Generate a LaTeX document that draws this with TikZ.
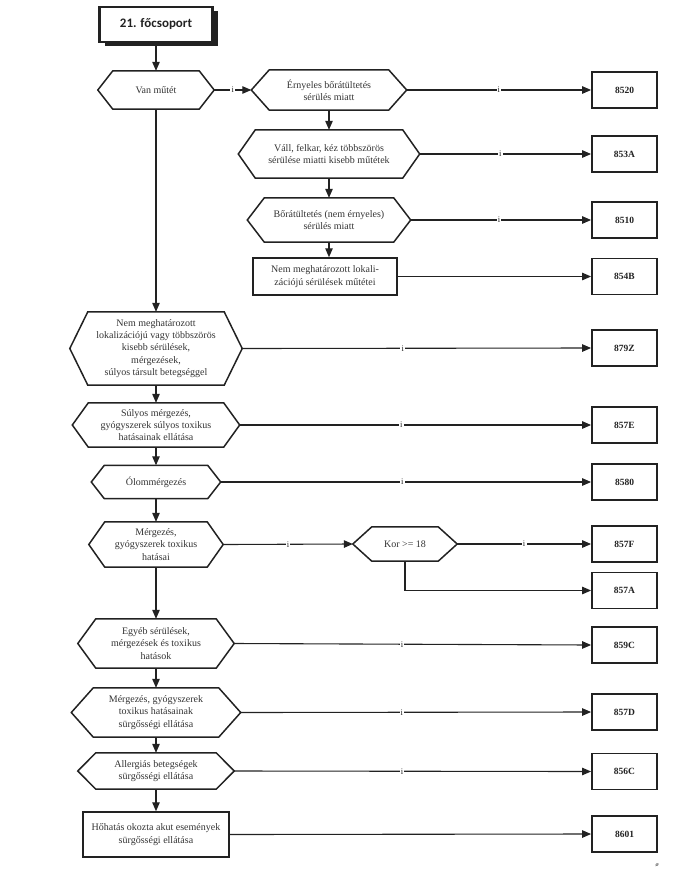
\documentclass[tikz,border=0pt]{standalone}
\usepackage{fontspec}
\setmainfont{Liberation Serif}
\newfontfamily\hdrfont{Carlito}
\usetikzlibrary{arrows.meta,shadows}
\definecolor{ink}{HTML}{222222}
\definecolor{txtc}{HTML}{333333}
\tikzset{
  txt/.style={inner sep=0pt, align=center, text=txtc, font=\fontsize{10}{12.3}\selectfont},
  shapeline/.style={draw=ink, line width=1.5pt, line join=miter},
  rectbox/.style={txt, draw=ink, line width=1.5pt},
  codebox/.style={draw=ink, line width=1.8pt, minimum width=65pt, minimum height=36pt, inner sep=0pt,
    text=ink, font=\fontsize{9.5}{11}\selectfont\bfseries},
  hdrbox/.style={draw=ink, fill=white, line width=2.2pt, minimum width=113pt, minimum height=35pt,
    font=\hdrfont\fontsize{13}{15}\selectfont\bfseries, text=ink,
    drop shadow={shadow xshift=5pt, shadow yshift=-4pt, fill=ink, opacity=1}},
  conn/.style={draw=ink, line width=1.1pt, -{Triangle[length=9pt,width=7.5pt]}},
  lbl/.style={fill=white, inner xsep=1.2pt, inner ysep=0pt, text=ink, font=\fontsize{8.5}{8.5}\selectfont}
}
% \hexn[inset]{name}{(x,y)}{width}{height}{text}
\newcommand{\hexn}[6][17]{%
  \node[txt, minimum width=#4pt, minimum height=#5pt] (#2) at #3 {#6};
  \draw[shapeline] (#2.west) -- ([xshift=#1pt]#2.north west) -- ([xshift=-#1pt]#2.north east)
    -- (#2.east) -- ([xshift=-#1pt]#2.south east) -- ([xshift=#1pt]#2.south west) -- cycle;
}
\begin{document}
\begin{tikzpicture}[x=1pt,y=-1pt]
\useasboundingbox (0,0) rectangle (695,884);

% header
\node[hdrbox] (hdr) at (156,24.5) {21. főcsoport};

% left column
\hexn[15]{van}{(156,90)}{116}{38}{Van műtét}
\hexn[18]{big}{(156,348.5)}{172}{73}{Nem meghatározott\\lokalizációjú vagy többszörös\\kisebb sérülések,\\mérgezések,\\súlyos társult betegséggel}
\hexn[16]{sul}{(156,425)}{167}{44}{Súlyos mérgezés,\\gyógyszerek súlyos toxikus\\hatásainak ellátása}
\hexn[13]{olom}{(156,482)}{129}{33}{Ólommérgezés}
\hexn[16]{merg}{(156,544.5)}{134}{45}{Mérgezés,\\gyógyszerek toxikus\\hatásai}
\hexn[18]{egyeb}{(156,643.5)}{156}{49}{Egyéb sérülések,\\mérgezések és toxikus\\hatások}
\hexn[22]{mgy}{(156,712.5)}{169}{49}{Mérgezés, gyógyszerek\\toxikus hatásainak\\sürgősségi ellátása}
\hexn[18]{allerg}{(156,771)}{156}{36}{Allergiás betegségek\\sürgősségi ellátása}
\node[rectbox, minimum width=146pt, minimum height=45pt] (hoh) at (156,834.5) {Hőhatás okozta akut események\\sürgősségi ellátása};

% middle column
\hexn[18]{erm}{(329,90)}{155}{40}{Érnyeles bőrátültetés\\sérülés miatt}
\hexn[17]{vall}{(329,154)}{181}{48}{Váll, felkar, kéz többszörös\\sérülése miatti kisebb műtétek}
\hexn[17]{bor}{(329,220)}{163}{44}{Bőrátültetés (nem érnyeles)\\sérülés miatt}
\node[rectbox, minimum width=144pt, minimum height=37pt] (nem) at (325,276.5) {Nem meghatározott lokali-\\zációjú sérülések műtétei};
\hexn[19]{kor}{(405,544)}{104}{34}{Kor >= 18}

% code boxes
\node[codebox] (c8520) at (624.5,90) {8520};
\node[codebox] (c853A) at (624.5,154) {853A};
\node[codebox] (c8510) at (624.5,220) {8510};
\node[codebox] (c854B) at (624.5,276.5) {854B};
\node[codebox] (c879Z) at (624.5,348) {879Z};
\node[codebox] (c857E) at (624.5,425) {857E};
\node[codebox] (c8580) at (624.5,482) {8580};
\node[codebox] (c857F) at (624.5,544) {857F};
\node[codebox] (c857A) at (624.5,590.5) {857A};
\node[codebox] (c859C) at (624.5,645) {859C};
\node[codebox] (c857D) at (624.5,712) {857D};
\node[codebox] (c856C) at (624.5,771.5) {856C};
\node[codebox] (c8601) at (624.5,834) {8601};

% small mark
\node[inner sep=0pt, text=ink, font=\fontsize{6}{6}\selectfont\itshape] (mark) at (657,865) {ø};

% vertical connectors
\draw[conn] (hdr) -- (van);
\draw[conn] (van) -- (big);
\draw[conn] (big) -- (sul);
\draw[conn] (sul) -- (olom);
\draw[conn] (olom) -- (merg);
\draw[conn] (merg) -- (egyeb);
\draw[conn] (egyeb) -- (mgy);
\draw[conn] (mgy) -- (allerg);
\draw[conn] (allerg) -- (hoh);
\draw[conn] (erm) -- (vall);
\draw[conn] (vall) -- (bor);
\draw[conn] (bor.south) -- (bor.south |- nem.north);

% horizontal connectors
\draw[conn] (van.east) -- node[lbl, pos=0.5] {i} (erm.west);
\draw[conn] (erm.east) -- node[lbl, pos=0.5] {i} (c8520.west);
\draw[conn] (vall.east) -- node[lbl, pos=0.47] {i} (c853A.west);
\draw[conn] (bor.east) -- node[lbl, pos=0.49] {i} (c8510.west);
\draw[conn] (nem.east) -- (c854B.west);
\draw[conn] (big.east) -- node[lbl, pos=0.46] {i} (c879Z.west);
\draw[conn] (sul.east) -- node[lbl, pos=0.46] {i} (c857E.west);
\draw[conn] (olom.east) -- node[lbl, pos=0.49] {i} (c8580.west);
\draw[conn] (merg.east) -- node[lbl, pos=0.5] {i} (kor.west);
\draw[conn] (kor.east) -- node[lbl, pos=0.5] {i} (c857F.west);
\draw[conn] (kor.south) |- (c857A.west);
\draw[conn] (egyeb.east) -- node[lbl, pos=0.47] {i} (c859C.west);
\draw[conn] (mgy.east) -- node[lbl, pos=0.46] {i} (c857D.west);
\draw[conn] (allerg.east) -- node[lbl, pos=0.47] {i} (c856C.west);
\draw[conn] (hoh.east) -- (c8601.west);
\end{tikzpicture}
\end{document}
